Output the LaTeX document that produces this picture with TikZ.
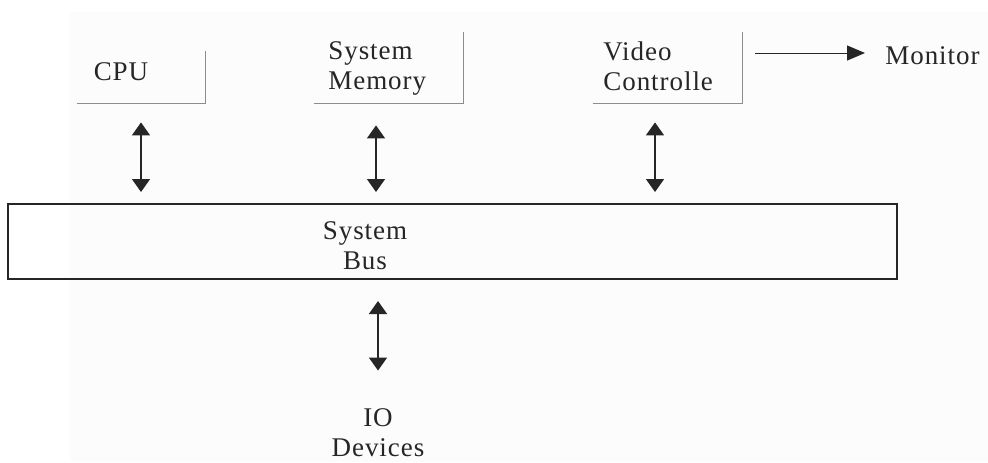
\documentclass[tikz,border=0pt]{standalone}
\usepackage{fontspec}
\setmainfont[LetterSpace=3.5]{Liberation Serif}
\usetikzlibrary{arrows.meta}
\begin{document}
\begin{tikzpicture}[x=0.5pt,y=-0.5pt,
  frame/.style={draw=none,inner sep=0pt,minimum width=#1},
  lbl/.style={inner sep=0pt,font=\fontsize{13.5}{15}\selectfont,text=black!85},
  edge/.style={draw=black!45,line width=0.6pt},
  dbl/.style={line width=0.8pt,draw=black!85,{Triangle[length=6.5pt,width=9pt]}-{Triangle[length=6.5pt,width=9pt]}},
  one/.style={line width=0.5pt,draw=black!85,-{Triangle[length=9pt,width=7.5pt]}},
  busframe/.style={draw=black!85,line width=1pt,inner sep=0pt,minimum width=444.5pt,minimum height=37.5pt}]
\useasboundingbox (0,0) rectangle (988,462);
\fill[black!1] (70,12) rectangle (988,462);
% boxes (only bottom and right sides visible)
\node[frame=64pt,minimum height=26pt] (cpubox) at (141,77) {};
\node[frame=74.5pt,minimum height=35.5pt] (membox) at (388.5,67.5) {};
\node[frame=74.5pt,minimum height=35.5pt] (vidbox) at (667.5,67.5) {};
\foreach \b in {cpubox,membox,vidbox}
  \draw[edge] (\b.south west) -- (\b.south east) -- (\b.north east);
% labels
\node[lbl] (cpu) at (121,71.5) {CPU};
\node[lbl,anchor=west,align=left] (mem) at (328,68) {System\\Memory};
\node[lbl,anchor=west,align=left] (vid) at (603,66) {Video\\Controlle};
\node[lbl,anchor=west] (monitor) at (885,56) {Monitor};
% bus
\node[busframe] (bus) at (452.5,241.5) {};
\node[lbl,align=center] (buslbl) at (365,246) {System\\Bus};
\node[lbl,align=center] (io) at (378,433) {IO\\Devices};
% connector end points
\coordinate (cpuA) at ([yshift=-9.5pt]cpubox.south);
\coordinate (memA) at ([xshift=-6.25pt,yshift=-11pt]membox.south);
\coordinate (vidA) at ([xshift=-6.25pt,yshift=-9.5pt]vidbox.south);
\coordinate (busTop) at ([yshift=5.5pt]bus.north);
\coordinate (monA) at ([xshift=6.5pt]vidbox.east |- monitor.west);
\coordinate (monA) at ([yshift=1.5pt]monA);
\coordinate (monB) at ([xshift=-10pt,yshift=1.5pt]monitor.west);
% connectors
\draw[dbl] (cpuA) -- (busTop -| cpuA);
\draw[dbl] (memA) -- (busTop -| memA);
\draw[dbl] (vidA) -- (busTop -| vidA);
\draw[dbl] ([yshift=-10.5pt]bus.south -| io.north) -- ([yshift=19pt]io.north);
\draw[one] (monA) -- (monB);
\end{tikzpicture}
\end{document}
